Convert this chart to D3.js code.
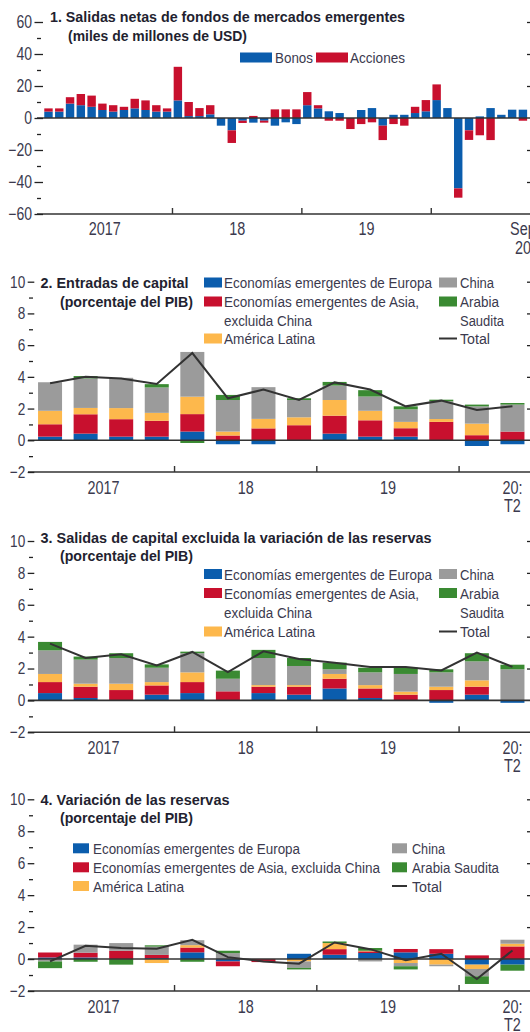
<!DOCTYPE html>
<html><head><meta charset="utf-8">
<script src="https://cdn.jsdelivr.net/npm/d3@7"></script>
<style>
body{margin:0;background:#fff}
svg text{font-family:"Liberation Sans",Arial,sans-serif}
</style></head><body>
<svg id="c" width="530" height="1032"></svg>
<script>
// ---------- DATA ----------
// Panel 1: monthly, Jan 2017 – Sep 2020 (miles de millones de USD)
const months = d3.timeMonths(new Date(2017,0,1), new Date(2020,9,1)).map(d3.timeFormat("%Y-%m"));
const bonos    = [4,4,9,8,7,5,4,5,6,5,4,4, 11,1.2,1.2,2.3,-4.8,-7.7,-1.7,-2.9,-1.7,-4.8,-2.7,-3.8, 8,6,4.2,3.1,0,5,6.2,-4.8,2,2,3.1,4.2, 11.2,6.2,-44,-7.7,1,6.2,2,5.2,5.2];
const acciones = [2,2,4,7,7,4,4,2,6,6,4,2, 21,8.8,5,5.7,0,-7.9,-1.4,1.3,-1.2,5.4,5.4,5.4, 8.2,2,-1.7,-1.7,-6.9,-3.8,-2.7,-9,-3.8,-4.8,3.9,7, 9.8,0,-5.8,-6,-10.8,-13.8,0,0,-1.7];
const yTicks1 = [-60,-40,-20,0,20,40,60];
const yMinor1 = [-50,-30,-10,10,30,50];
const yearLabels1 = ["2017","18","19"];

// Panels 2–4: quarterly, 2017:T1 – 2020:T2 (porcentaje del PIB)
const quarters = ["2017T1","2017T2","2017T3","2017T4","2018T1","2018T2","2018T3","2018T4","2019T1","2019T2","2019T3","2019T4","2020T1","2020T2"];
const yearLabelsQ = ["2017","18","19"];
const yTicksQ = [-2,0,2,4,6,8,10];
const yMinorQ = [-1,1,3,5,7,9];

const inEurope = [0.23,0.42,0.23,0.23,0.55,-0.25,-0.25,0,0.42,0.23,0.23,0,-0.36,-0.25];
const inAsia   = [0.78,1.22,1.1,1.0,1.1,0.3,0.75,0.95,1.13,1.03,0.53,1.16,0.32,0.55];
const inLatam  = [0.85,0.4,0.7,0.5,1.1,0.25,0.6,0.5,0.99,0.6,0.4,0.18,0.73,0];
const inChina  = [1.8,1.86,1.91,1.6,2.82,1.99,2.0,1.09,0.91,0.9,0.79,1.12,1.09,1.7];
const inSaudi  = [0,0.15,0,0.21,-0.17,0.32,0,0.11,0.23,0.4,0.19,0.1,0.11,0.1];
const inTotal  = [3.6,4.0,3.9,3.55,5.5,2.65,3.2,2.54,3.65,3.2,2.14,2.5,1.91,2.14];

const outEurope = [0.46,0.15,0,0.36,0.46,0,0.46,0.36,0.75,0.15,0,-0.15,0.36,-0.15];
const outAsia   = [0.69,0.71,0.65,0.58,0.69,0.57,0.4,0.5,0.61,0.6,0.36,0.65,0.5,0];
const outLatam  = [0.51,0.19,0.4,0.21,0.61,0,0.1,0.1,0.3,0.21,0.19,0.21,0.4,0];
const outChina  = [1.48,1.51,1.61,0.9,1.2,0.79,1.7,1.2,0.29,0.8,1.11,0.9,1.19,1.95];
const outSaudi  = [0.53,0.19,0.3,0.21,0.1,0.51,0.51,0.5,0.42,0.29,0.39,0.19,0.51,0.29];
const outTotal  = [3.56,2.66,2.9,2.2,3.04,1.78,3.08,2.6,2.37,2.1,2.1,1.88,3.0,2.1];

const resEurope = [0.1,0.1,0,0.06,0.42,-0.15,0,0.33,0.27,0.38,0.42,0.33,-0.35,-0.35];
const resAsia   = [0.31,0.3,0.52,0.2,0.3,-0.3,-0.19,0,0.35,0.1,0.21,0.29,0.23,0.79];
const resLatam  = [0,0,0,-0.25,0.15,0,0,-0.15,0.38,0.04,-0.25,-0.35,-0.27,0.17];
const resChina  = [-0.15,0.5,0.48,0.52,0.31,0.37,0,-0.4,0,-0.15,-0.2,-0.1,-0.46,0.25];
const resSaudi  = [-0.42,-0.17,-0.35,0.08,-0.17,0.15,0,-0.1,0.1,0.17,-0.2,0,-0.48,-0.38];
const resTotal  = [-0.15,0.83,0.69,0.65,1.2,0.12,-0.15,-0.29,1.04,0.62,-0.08,0.33,-1.25,0.54];

// ---------- STYLE ----------
const C = {bonos:"#0b5dad", acciones:"#c8102e", europe:"#0b5dad", asia:"#c8102e", latam:"#fdb84c", china:"#9b9b9b", saudi:"#3a8a32", total:"#333333"};
const LABEL = "#3b3a4e", TITLE = "#231f30";
const AXK = 0.8; // horizontal condensation for axis labels
const svg = d3.select("#c");
svg.append("rect").attr("width",530).attr("height",1032).attr("fill","#fff");

function squeeze(sel, k){
  sel.each(function(){
    const w = this.getComputedTextLength();
    if (w>0) d3.select(this).attr("textLength", w*k).attr("lengthAdjust","spacingAndGlyphs");
  });
}
function txt(g, x, y, s, o={}){
  const t = g.append("text").attr("x",x).attr("y",y).text(s)
    .attr("fill", o.fill||LABEL).style("font-size",(o.fs||15.5)+"px")
    .attr("text-anchor", o.anchor||"start");
  if (o.bold) t.style("font-weight","bold");
  if (o.w) t.attr("textLength",o.w).attr("lengthAdjust","spacingAndGlyphs");
  else if (o.k) squeeze(t,o.k);
  return t;
}

function yAxes(g, y, majors, minors, xMaj, lenMaj, xMin, lenMin, fs){
  const a = g.append("g").attr("transform",`translate(${xMaj},0)`)
    .call(d3.axisLeft(y).tickValues(majors).tickSize(lenMaj).tickPadding(2.5).tickFormat(d3.format("d")));
  a.select(".domain").remove();
  a.selectAll("line").attr("stroke","#222").attr("stroke-width",1.3);
  a.selectAll("text").attr("fill",LABEL).style("font-size",fs+"px").style("font-family","Liberation Sans, Arial, sans-serif");
  squeeze(a.selectAll("text"), AXK);
  const b = g.append("g").attr("transform",`translate(${xMin},0)`)
    .call(d3.axisLeft(y).tickValues(minors).tickSize(lenMin).tickFormat(""));
  b.select(".domain").remove();
  b.selectAll("line").attr("stroke","#222").attr("stroke-width",1.3);
  const r = g.append("g").attr("transform",`translate(531,0)`)
    .call(d3.axisLeft(y).tickValues(majors.filter(v=>v!==0 && v!==y.domain()[0])).tickSize(4).tickFormat(""));
  r.select(".domain").remove();
  r.selectAll("line").attr("stroke","#222").attr("stroke-width",1.3);
}

// ---------- PANEL 1 ----------
(function(){
  const g = svg.append("g");
  const y = d3.scaleLinear().domain([-60,60]).range([214,22]);
  const x = d3.scaleBand().domain(months).range([43.2,528.2]).paddingInner(0.22).paddingOuter(0.1);
  const rows = months.map((m,i)=>({m, bonos:bonos[i], acciones:acciones[i]}));
  const series = d3.stack().keys(["bonos","acciones"]).offset(d3.stackOffsetDiverging)(rows);
  g.selectAll("g.s").data(series).join("g").attr("fill",d=>C[d.key])
    .selectAll("rect").data(d=>d).join("rect")
    .attr("x",d=>x(d.data.m)).attr("width",x.bandwidth())
    .attr("y",d=>y(Math.max(d[0],d[1]))).attr("height",d=>Math.abs(y(d[0])-y(d[1])));
  g.append("line").attr("x1",37).attr("x2",530).attr("y1",y(0)).attr("y2",y(0)).attr("stroke","#333").attr("stroke-width",1.6);
  g.append("line").attr("x1",37).attr("x2",530).attr("y1",y(-60)).attr("y2",y(-60)).attr("stroke","#333").attr("stroke-width",1.6);
  yAxes(g, y, yTicks1, yMinor1, 43, 8.5, 41, 4, 17.5);
  [12,24,36].forEach(i=>{
    const xb = (x(months[i-1])+x.bandwidth()+x(months[i]))/2;
    g.append("line").attr("x1",xb).attr("x2",xb).attr("y1",y(-60)).attr("y2",y(-60)-6).attr("stroke","#333").attr("stroke-width",1.4);
  });
  yearLabels1.forEach((t,k)=>{
    const a = x(months[k*12]), b = x(months[k*12+11])+x.bandwidth();
    txt(g,(a+b)/2 - (k===0?3:0),y(-60)+20.5,t,{anchor:"middle",fs:18,k:AXK});
  });
  const xl = x(months[44])+x.bandwidth()/2;
  txt(g,xl,y(-60)+20.5,"Sep",{anchor:"middle",fs:18,k:AXK});
  txt(g,xl,y(-60)+40,"20",{anchor:"middle",fs:18,k:AXK});
  txt(g,50,21.7,"1. Salidas netas de fondos de mercados emergentes",{fill:TITLE,bold:true,w:355});
  txt(g,68,41,"(miles de millones de USD)",{fill:TITLE,bold:true,w:179});
  [["bonos","Bonos",240,275,38],["acciones","Acciones",316,350,55]].forEach(([k,t,sx,tx,w])=>{
    g.append("rect").attr("x",sx).attr("y",52.5).attr("width",32).attr("height",10).attr("fill",C[k]);
    txt(g,tx,63,t,{w});
  });
})();

// ---------- QUARTERLY PANELS ----------
const keys = ["europe","asia","latam","china","saudi"];
function quarterPanel(cfg){
  const g = svg.append("g");
  const y = d3.scaleLinear().domain([-2,10]).range([cfg.yBottom,cfg.yTop]);
  const x = d3.scaleBand().domain(quarters).range([32,530.5]).paddingInner(0.325).paddingOuter(0.17);
  const rows = quarters.map((q,i)=>{const r={q}; keys.forEach(k=>r[k]=cfg.data[k][i]); return r;});
  const series = d3.stack().keys(keys).offset(d3.stackOffsetDiverging)(rows);
  g.selectAll("g.s").data(series).join("g").attr("fill",d=>C[d.key])
    .selectAll("rect").data(d=>d).join("rect")
    .attr("x",d=>x(d.data.q)).attr("width",x.bandwidth())
    .attr("y",d=>y(Math.max(d[0],d[1]))).attr("height",d=>Math.abs(y(d[0])-y(d[1])));
  g.append("line").attr("x1",28).attr("x2",530).attr("y1",y(0)).attr("y2",y(0)).attr("stroke","#333").attr("stroke-width",1.6);
  g.append("line").attr("x1",28).attr("x2",530).attr("y1",y(-2)).attr("y2",y(-2)).attr("stroke","#333").attr("stroke-width",1.6);
  const line = d3.line().x((d,i)=>x(quarters[i])+x.bandwidth()/2).y(d=>y(d));
  g.append("path").datum(cfg.data.total).attr("d",line).attr("fill","none").attr("stroke",C.total).attr("stroke-width",2);
  yAxes(g, y, yTicksQ, yMinorQ, 34.3, 6.6, 33, 4, 17);
  [4,8,12].forEach(i=>{
    const xb = (x(quarters[i-1])+x.bandwidth()+x(quarters[i]))/2;
    g.append("line").attr("x1",xb).attr("x2",xb).attr("y1",y(-2)).attr("y2",y(-2)-6).attr("stroke","#333").attr("stroke-width",1.4);
  });
  yearLabelsQ.forEach((t,k)=>{
    const a = x(quarters[k*4]), b = x(quarters[k*4+3])+x.bandwidth();
    txt(g,(a+b)/2,y(-2)+21.5,t,{anchor:"middle",fs:18,k:AXK});
  });
  const xl = x(quarters[13])+x.bandwidth()/2;
  txt(g,xl,y(-2)+21.5,"20:",{anchor:"middle",fs:18,k:AXK});
  txt(g,xl,y(-2)+40,"T2",{anchor:"middle",fs:18,k:AXK});
  cfg.title.forEach((t,i)=>{
    txt(g,i?60:40.5,cfg.titleY[i],t,{fill:TITLE,bold:true,w:cfg.titleW[i]});
  });
  cfg.legend.forEach(it=>{
    if(it.key==="total"){
      g.append("line").attr("x1",it.sx).attr("x2",it.sx+it.sw).attr("y1",it.cy).attr("y2",it.cy).attr("stroke",C.total).attr("stroke-width",2);
    } else if(it.key){
      g.append("rect").attr("x",it.sx).attr("y",it.cy-5).attr("width",it.sw).attr("height",10).attr("fill",C[it.key]);
    }
    txt(g,it.tx,it.cy+5.5,it.text,{w:it.w});
  });
}

function legendTwoCol(rowsY){
  const [r1,r2,r3,r4] = rowsY;
  return [
    {key:"europe",sx:204,sw:18,tx:224,cy:r1,text:"Economías emergentes de Europa",w:208},
    {key:"asia",sx:204,sw:18,tx:224,cy:r2,text:"Economías emergentes de Asia,",w:195},
    {key:null,tx:224,cy:r3,text:"excluida China",w:88},
    {key:"latam",sx:204,sw:18,tx:224,cy:r4,text:"América Latina",w:91},
    {key:"china",sx:439,sw:18,tx:460,cy:r1,text:"China",w:34},
    {key:"saudi",sx:439,sw:18,tx:460,cy:r2,text:"Arabia",w:39},
    {key:null,tx:460,cy:r3,text:"Saudita",w:44},
    {key:"total",sx:439,sw:18,tx:460,cy:r4,text:"Total",w:30}
  ];
}

quarterPanel({
  yTop:281.7, yBottom:472,
  data:{europe:inEurope,asia:inAsia,latam:inLatam,china:inChina,saudi:inSaudi,total:inTotal},
  title:["2. Entradas de capital","(porcentaje del PIB)"], titleY:[287.7,306.7], titleW:[148,133],
  legend: legendTwoCol([282.5,301.5,320.5,338.5])
});
quarterPanel({
  yTop:541, yBottom:732.3,
  data:{europe:outEurope,asia:outAsia,latam:outLatam,china:outChina,saudi:outSaudi,total:outTotal},
  title:["3. Salidas de capital excluida la variación de las reservas","(porcentaje del PIB)"], titleY:[543.3,560.5], titleW:[391,133],
  legend: legendTwoCol([574,593,612,631.5])
});
quarterPanel({
  yTop:799.3, yBottom:991,
  data:{europe:resEurope,asia:resAsia,latam:resLatam,china:resChina,saudi:resSaudi,total:resTotal},
  title:["4. Variación de las reservas","(porcentaje del PIB)"], titleY:[805,823.3], titleW:[189,133],
  legend: [
    {key:"europe",sx:73,sw:16,tx:93,cy:848.3,text:"Economías emergentes de Europa",w:207},
    {key:"asia",sx:73,sw:16,tx:93,cy:867.3,text:"Economías emergentes de Asia, excluida China",w:287},
    {key:"latam",sx:73,sw:16,tx:93,cy:886,text:"América Latina",w:91},
    {key:"china",sx:392,sw:15,tx:412,cy:848.3,text:"China",w:33},
    {key:"saudi",sx:392,sw:15,tx:412,cy:867.3,text:"Arabia Saudita",w:87},
    {key:"total",sx:392,sw:15,tx:412,cy:886,text:"Total",w:30}
  ]
});
</script>
</body></html>
